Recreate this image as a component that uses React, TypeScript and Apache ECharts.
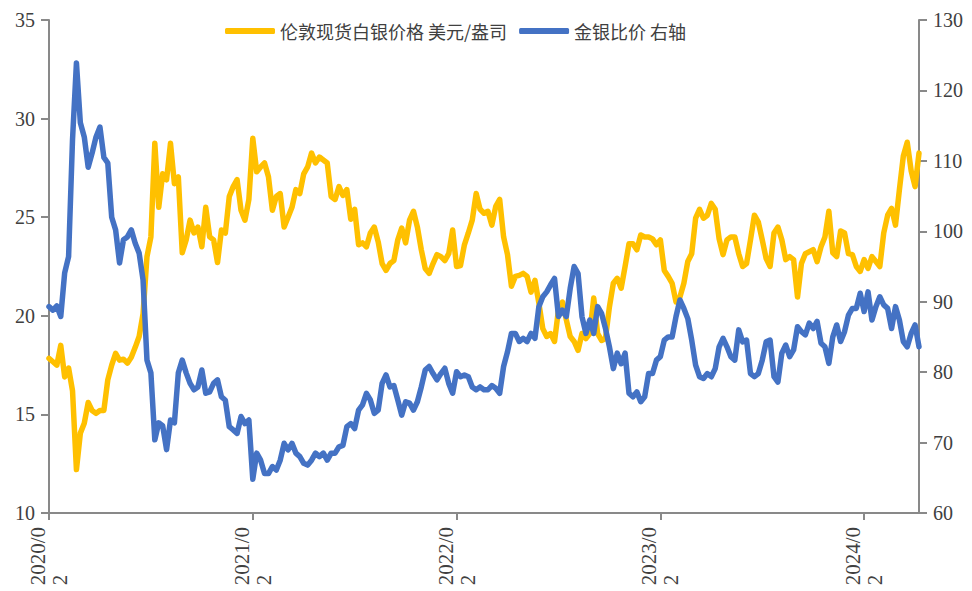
import React, { useEffect, useRef } from "react";
import * as echarts from "echarts";

// London spot silver, USD/oz (weekly, left axis)
const silver: number[] = [
  17.84, 17.67, 17.5, 18.5, 16.9, 17.35, 16.2, 12.2, 14.05, 14.55,
  15.6, 15.2, 15.05, 15.2, 15.2, 16.75, 17.5, 18.1, 17.75, 17.8,
  17.6, 17.9, 18.4, 18.95, 20.1, 23.0, 24.0, 28.75, 25.5, 27.2,
  26.9, 28.75, 26.7, 27.05, 23.2, 23.85, 24.85, 24.2,
  24.5, 23.5, 25.5, 24.0, 23.85, 22.7, 24.35, 24.2, 26.05, 26.55,
  26.9, 25.35, 24.85, 25.9, 29.0, 27.3, 27.55, 27.75, 27.05, 25.35,
  26.05, 26.2, 24.5, 25.0, 25.5, 26.4, 26.2, 27.2, 27.55, 28.25,
  27.75, 28.05, 27.9, 27.75, 26.05, 25.9, 26.55,
  26.1, 26.4, 24.9, 25.4, 23.6, 23.7, 23.5, 24.2, 24.5, 23.75,
  22.65, 22.3, 22.65, 22.8, 23.85, 24.45, 23.7, 24.85, 25.3, 24.5,
  23.35, 22.4, 22.15, 22.65, 23.1, 23.0, 22.8, 23.15, 24.35, 22.5,
  22.55, 23.6, 24.2, 24.85, 26.2, 25.4, 25.2,
  25.3, 24.6, 25.55, 25.9, 24.0, 23.1, 21.5, 22.0, 22.05, 22.15,
  22.0, 21.2, 21.8, 20.65, 19.35, 18.95, 19.1, 18.7, 20.3, 20.7,
  19.8, 18.95, 18.7, 18.25, 19.1, 18.85, 19.1, 20.9, 19.1, 18.75,
  18.85, 20.45, 21.65, 21.9, 21.4, 22.5, 23.65,
  23.65, 23.35, 24.1, 24.0, 24.0, 23.9, 23.6, 23.85, 22.3, 22.0,
  21.65, 20.7, 20.95, 21.65, 22.75, 23.15, 24.95, 25.4, 24.95, 25.1,
  25.7, 25.4, 23.9, 23.1, 23.85, 24.0, 24.0, 23.15, 22.5, 22.65,
  23.85, 25.1, 24.75, 23.85, 22.9, 22.5, 24.2,
  24.5, 23.85, 22.85, 23.0, 22.85, 20.95, 22.65, 23.15, 23.25, 23.35,
  22.75, 23.5, 24.0, 25.3, 23.2, 23.0, 24.3, 24.2, 23.15, 23.1,
  22.5, 22.25, 22.85, 22.4, 23.0, 22.75, 22.5, 24.2, 25.1, 25.45,
  24.6, 26.4, 28.1, 28.8, 27.35, 26.55, 28.25,
];

// Gold/silver ratio (weekly, right axis)
const ratio: number[] = [
  89.3, 88.8, 89.4, 87.9, 94.1, 96.4, 113.0, 123.9, 115.4, 113.4,
  109.1, 111.1, 113.4, 114.8, 110.5, 109.7, 102.0, 100.2, 95.5, 98.8,
  99.2, 100.2, 98.3, 96.9, 93.1, 81.7, 79.9, 70.4, 72.8, 72.4,
  69.0, 73.2, 72.8, 79.9, 81.7, 79.9, 78.4, 77.5,
  77.9, 80.3, 77.0, 77.2, 78.4, 78.9, 76.5, 76.0, 72.25, 71.8,
  71.3, 73.7, 72.7, 73.2, 64.8, 68.5, 67.5, 65.6, 65.6, 66.6,
  66.1, 67.5, 69.9, 68.95, 69.9, 68.5, 68.0, 67.05, 66.8, 67.5,
  68.5, 68.0, 68.5, 67.5, 68.5, 68.5, 69.4,
  69.6, 72.25, 72.7, 72.0, 74.6, 75.35, 77.0, 76.05, 74.15, 74.6,
  78.4, 79.6, 77.9, 78.1, 76.05, 73.9, 75.8, 75.6, 74.6, 75.8,
  77.9, 80.3, 80.8, 79.8, 78.9, 79.8, 80.55, 78.4, 77.0, 80.05,
  79.35, 79.6, 79.35, 77.9, 77.5, 77.9, 77.5,
  77.5, 78.1, 77.7, 77.0, 80.8, 82.9, 85.5, 85.5, 84.35, 84.8,
  84.35, 85.5, 84.8, 89.3, 90.7, 91.4, 92.4, 93.3, 87.9, 88.8,
  87.9, 91.9, 95.0, 94.0, 87.9, 85.5, 87.4, 85.5, 89.3, 88.35,
  86.2, 83.6, 80.5, 82.7, 81.2, 82.7, 77.0,
  76.5, 77.2, 75.8, 76.5, 79.8, 79.8, 81.7, 82.2, 84.55, 85.0,
  85.0, 87.9, 90.25, 89.05, 87.6, 84.55, 81.0, 79.35, 79.1, 79.8,
  79.35, 80.5, 83.6, 84.8, 83.6, 82.2, 81.7, 86.0, 84.3, 84.55,
  79.8, 79.35, 79.8, 81.7, 84.3, 84.55, 79.35,
  78.6, 82.7, 83.85, 82.2, 83.15, 86.45, 85.75, 85.3, 86.95, 86.2,
  87.2, 84.1, 83.6, 81.25, 85.0, 86.7, 84.35, 85.75, 88.1, 89.05,
  89.05, 91.2, 88.6, 91.4, 87.4, 89.3, 90.7, 89.55, 89.05, 86.2,
  89.3, 87.4, 84.35, 83.6, 85.5, 86.7, 83.6,
];

const seriesNames: string[] = ["伦敦现货白银价格 美元/盎司", "金银比价 右轴"];
const firstDate = "2020/02/06";
const labelEvery = 52; // one labelled tick per year

function buildDates(start: string, n: number): string[] {
  const [y, m, d] = start.split("/").map(Number);
  const t0 = Date.UTC(y, m - 1, d);
  const out: string[] = [];
  for (let i = 0; i < n; i++) {
    const dt = new Date(t0 + i * 7 * 86400000);
    const mm = String(dt.getUTCMonth() + 1).padStart(2, "0");
    const dd = String(dt.getUTCDate()).padStart(2, "0");
    out.push(`${dt.getUTCFullYear()}/${mm}/${dd}`);
  }
  return out;
}

const dates = buildDates(firstDate, silver.length);

export default function App() {
  const ref = useRef<HTMLDivElement>(null);
  useEffect(() => {
    if (!ref.current) return;
    const chart = echarts.init(ref.current, undefined, { renderer: "svg" });
    const axisColor = "#898989";
    const labelColor = "#404040";
    const serif = "'Liberation Serif', 'DejaVu Serif', serif";
    chart.setOption({
      animation: false,
      backgroundColor: "#ffffff",
      grid: { left: 49, right: 53, top: 20, bottom: 78, containLabel: false },
      legend: {
        left: 220,
        top: 17,
        itemWidth: 50,
        itemHeight: 6,
        itemGap: 12,
        icon: "roundRect",
        textStyle: { fontSize: 18, color: labelColor, fontFamily: "'Noto Sans CJK SC', sans-serif" },
        data: seriesNames,
      },
      xAxis: {
        type: "category",
        data: dates,
        boundaryGap: false,
        axisLine: { lineStyle: { color: axisColor, width: 2 } },
        axisTick: {
          show: true,
          interval: (i: number) => i % labelEvery === 0,
          length: 7,
          lineStyle: { color: axisColor, width: 2 },
        },
        splitLine: { show: false },
        axisLabel: {
          interval: (i: number) => i % labelEvery === 0,
          rotate: 90,
          margin: 14,
          fontFamily: serif,
          fontSize: 21,
          color: labelColor,
          formatter: (v: string) => {
            const ym = v.slice(0, 7);
            return `{a|${ym.slice(0, 6)}}\n{b|${ym.slice(6)}}`;
          },
          rich: {
            a: { fontFamily: serif, fontSize: 21, color: labelColor, lineHeight: 22 },
            b: { fontFamily: serif, fontSize: 21, color: labelColor, lineHeight: 22, align: "left" },
          },
        },
      },
      yAxis: [
        {
          type: "value",
          min: 10,
          max: 35,
          interval: 5,
          position: "left",
          axisLine: { show: true, lineStyle: { color: axisColor, width: 2 } },
          axisTick: { show: true, length: 8, lineStyle: { color: axisColor, width: 2 } },
          splitLine: { show: false },
          axisLabel: { margin: 14, fontFamily: serif, fontSize: 20, color: labelColor },
        },
        {
          type: "value",
          min: 60,
          max: 130,
          interval: 10,
          position: "right",
          axisLine: { show: true, lineStyle: { color: axisColor, width: 2 } },
          axisTick: { show: true, length: 8, lineStyle: { color: axisColor, width: 2 } },
          splitLine: { show: false },
          axisLabel: { margin: 14, fontFamily: serif, fontSize: 20, color: labelColor },
        },
      ],
      series: [
        {
          name: seriesNames[0],
          type: "line",
          data: silver,
          yAxisIndex: 0,
          symbol: "none",
          itemStyle: { color: "#FFC000" },
          lineStyle: { color: "#FFC000", width: 5.5, join: "round", cap: "round" },
        },
        {
          name: seriesNames[1],
          type: "line",
          data: ratio,
          yAxisIndex: 1,
          symbol: "none",
          itemStyle: { color: "#4472C4" },
          lineStyle: { color: "#4472C4", width: 5.5, join: "round", cap: "round" },
        },
      ],
    });
    return () => chart.dispose();
  }, []);
  return (
    <div
      ref={ref}
      style={{ position: "fixed", left: 0, top: 0, width: 972, height: 591, background: "#fff" }}
    />
  );
}
